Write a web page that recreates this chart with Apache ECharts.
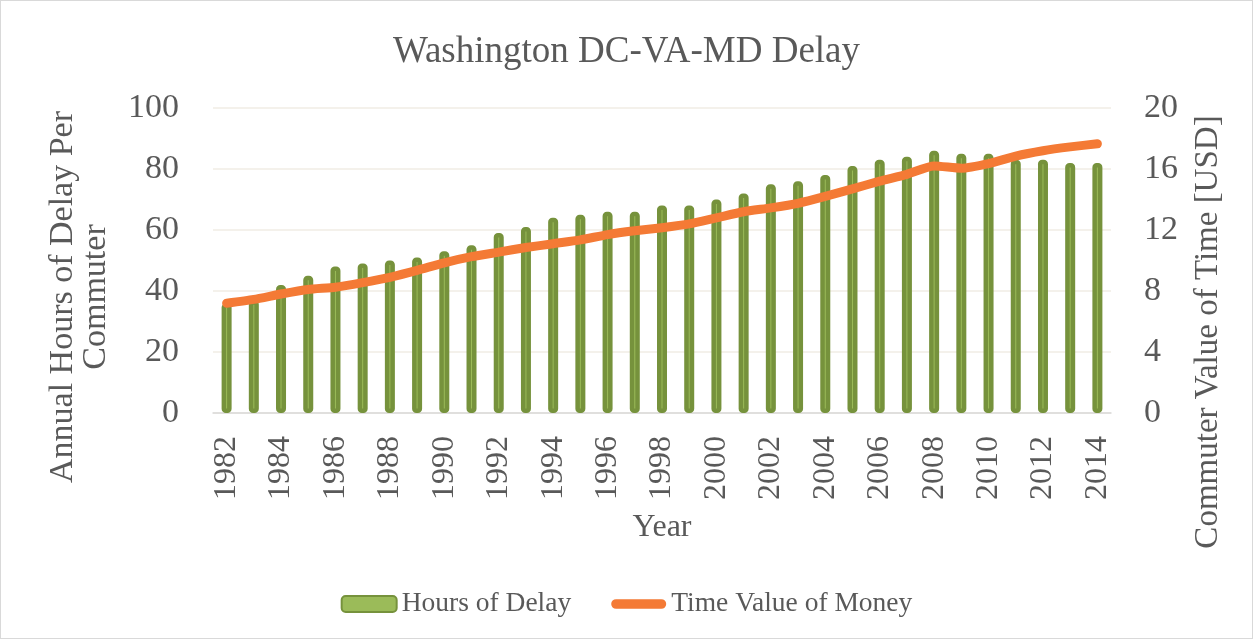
<!DOCTYPE html>
<html>
<head>
<meta charset="utf-8">
<script src="https://cdn.jsdelivr.net/npm/echarts@6/dist/echarts.min.js"></script>
<style>
  html, body { margin: 0; padding: 0; background: #fff; }
  #chart { width: 1253px; height: 639px; box-sizing: border-box; border: 1px solid #d9d9d9; }
</style>
</head>
<body>
<div id="chart"></div>
<script>
const years = ['1982','1983','1984','1985','1986','1987','1988','1989','1990','1991','1992','1993','1994','1995','1996','1997','1998','1999','2000','2001','2002','2003','2004','2005','2006','2007','2008','2009','2010','2011','2012','2013','2014']
const hoursOfDelay = [36, 37, 42, 45, 48, 49, 50, 51, 53, 55, 59, 61, 64, 65, 66, 66, 68, 68, 70, 72, 75, 76, 78, 81, 83, 84, 86, 85, 85, 83, 83, 82, 82]
const timeValue = [7.2, 7.45, 7.8, 8.1, 8.25, 8.55, 8.9, 9.35, 9.85, 10.25, 10.55, 10.85, 11.1, 11.35, 11.7, 11.95, 12.15, 12.4, 12.8, 13.2, 13.45, 13.75, 14.2, 14.7, 15.2, 15.65, 16.2, 16.05, 16.35, 16.85, 17.2, 17.45, 17.65]

const font = 'Liberation Serif'
const textColor = '#595959'

const chart = echarts.init(document.getElementById('chart'))

const option = {
  backgroundColor: '#fff',
  animation: false,
  textStyle: { fontFamily: font },
  title: {
    text: 'Washington DC-VA-MD Delay',
    left: 'center',
    top: 28,
    textStyle: { fontFamily: font, fontSize: 37, fontWeight: 'normal', color: textColor },
  },
  // axis titles placed by hand so they sit where the original has them
  graphic: [
    {
      type: 'text',
      x: 79,
      y: 296,
      rotation: Math.PI / 2,
      style: {
        text: 'Annual Hours of Delay Per\nCommuter',
        font: '34px "Liberation Serif"',
        fill: textColor,
        align: 'center',
        verticalAlign: 'middle',
        lineHeight: 33,
      },
    },
    {
      type: 'text',
      x: 1207,
      y: 331,
      rotation: Math.PI / 2,
      style: {
        text: 'Commuter Value of Time [USD]',
        font: '33px "Liberation Serif"',
        fill: textColor,
        align: 'center',
        verticalAlign: 'middle',
      },
    },
  ],
  legend: {
    bottom: 15,
    left: 'center',
    itemWidth: 55,
    itemHeight: 16,
    itemGap: 40,
    textStyle: { fontFamily: font, fontSize: 27.5, color: textColor },
    data: [
      { name: 'Hours of Delay', icon: 'roundRect' },
      { name: 'Time Value of Money', icon: 'path://M5,0 H52 A5,5 0 0 1 52,10 H5 A5,5 0 0 1 5,0 Z' },
    ],
  },
  grid: { left: 212, right: 141, top: 107, bottom: 225 },
  xAxis: {
    type: 'category',
    data: years,
    name: 'Year',
    nameLocation: 'middle',
    nameGap: 99,
    nameTextStyle: { fontFamily: font, fontSize: 32, color: textColor },
    axisLine: { lineStyle: { color: '#d9d9d9', width: 1.5 } },
    axisTick: { show: false },
    axisLabel: { interval: 1, rotate: 90, margin: 23, fontSize: 32, color: textColor, fontFamily: font },
  },
  yAxis: [
    {
      type: 'value',
      min: 0,
      max: 100,
      interval: 20,
      axisLine: { show: false },
      axisTick: { show: false },
      axisLabel: { margin: 34, fontSize: 34, color: textColor, fontFamily: font },
      splitLine: { lineStyle: { color: '#f0ede4', width: 1.5 } },
    },
    {
      type: 'value',
      min: 0,
      max: 20,
      interval: 4,
      axisLine: { show: false },
      axisTick: { show: false },
      axisLabel: { margin: 33, fontSize: 34, color: textColor, fontFamily: font },
      splitLine: { show: false },
    },
  ],
  series: [
    {
      name: 'Hours of Delay',
      type: 'bar',
      yAxisIndex: 0,
      barWidth: 10,
      data: hoursOfDelay,
      itemStyle: { color: '#9bbb59', borderColor: '#76923c', borderWidth: 4.5, borderRadius: 2 },
      z: 2,
    },
    {
      name: 'Time Value of Money',
      type: 'line',
      yAxisIndex: 1,
      data: timeValue,
      smooth: 0.2,
      symbol: 'none',
      lineStyle: { color: '#f47a35', width: 9, cap: 'round', join: 'round' },
      itemStyle: { color: '#f47a35' },
      z: 3,
    },
  ],
}

chart.setOption(option)
</script>
</body>
</html>
